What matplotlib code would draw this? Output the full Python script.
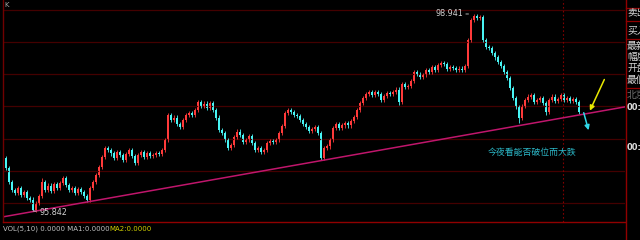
import numpy as np
import matplotlib.pyplot as plt

plt.rcParams['font.family'] = ['DejaVu Sans']
CJK = ['Noto Sans CJK SC', 'DejaVu Sans']

# candle closes left to right
first_open = 96.72
closes = [
    96.68, 96.52, 96.30, 96.17, 96.13, 96.20, 96.09, 96.14, 96.05, 96.02,
    95.86, 95.97, 96.08, 96.30, 96.17, 96.24, 96.16, 96.27, 96.20, 96.28,
    96.36, 96.25, 96.17, 96.20, 96.13, 96.19, 96.14, 96.08, 96.02, 96.20,
    96.30, 96.41, 96.53, 96.69, 96.83,
    96.80, 96.75, 96.68, 96.77, 96.72, 96.64, 96.74, 96.80, 96.71, 96.60,
    96.72, 96.77, 96.69, 96.75, 96.71, 96.72, 96.75, 96.74, 96.80, 96.96,
    97.35, 97.27, 97.31, 97.21, 97.16, 97.27, 97.35, 97.38, 97.35, 97.43,
    97.56, 97.49, 97.53, 97.46, 97.54, 97.43, 97.31, 97.12, 97.07, 96.96,
    96.83, 96.88, 97.01, 97.09, 97.04, 96.93, 96.96, 97.02, 96.91, 96.80,
    96.83, 96.77, 96.80, 96.91, 96.94, 96.93, 96.96, 97.07, 97.18, 97.38,
    97.43, 97.40, 97.35, 97.34, 97.27, 97.21, 97.16, 97.10, 97.13, 97.16,
    97.07, 96.68, 96.83, 96.86, 96.96, 97.15, 97.21, 97.15, 97.19, 97.23,
    97.19, 97.26, 97.32, 97.43, 97.54, 97.62, 97.68, 97.71, 97.67, 97.71,
    97.68, 97.59, 97.65, 97.70, 97.68, 97.71, 97.75, 97.56, 97.84, 97.79,
    97.81, 97.89, 98.03, 98.00, 97.95, 97.98, 98.06, 98.03, 98.11, 98.06,
    98.14, 98.17, 98.15, 98.08, 98.11, 98.09, 98.06, 98.08, 98.06, 98.12,
    98.53, 98.85, 98.91, 98.88, 98.89, 98.53, 98.42, 98.41, 98.33, 98.26,
    98.19, 98.12, 98.03, 97.93, 97.78, 97.62, 97.48, 97.31, 97.49, 97.59,
    97.64, 97.67, 97.56, 97.59, 97.62, 97.54, 97.40, 97.59, 97.64, 97.57,
    97.60, 97.67, 97.59, 97.62, 97.57, 97.60, 97.56, 97.40,
]
# long shadows that stick out (candle index -> price)
spike_high = {13: 96.36, 157: 98.941}
spike_low = {10: 95.842, 106: 96.65, 132: 97.51, 172: 97.23, 181: 97.35, 192: 97.36}

low_idx, low_label = 10, "95.842"
high_idx, high_label = 157, "98.941"

trend_x = [0, 207.3]
trend_y = [95.75, 97.48]
grid_levels = [99.0, 98.5, 98.0, 97.49, 96.98, 96.47, 95.96]

note = "今夜看能否破位而大跌"
panel_labels = ["卖出", "买入", "最新", "幅度", "开盘", "最低"]
panel_rows = [13, 30, 46, 57, 68, 80]
vol_text = "VOL(5,10) 0.0000 MA1:0.0000"
ma2_text = "MA2:0.0000"

W, H = 640, 240
RED_GRID = '#440000'
RED_LINE = '#900000'

fig = plt.figure(figsize=(W / 100, H / 100), dpi=100, facecolor='black')
ax = fig.add_axes([2.5 / W, 1 - 222 / H, (625 - 2.5) / W, 222 / H])
ax.set_facecolor('black')
ax.set_xlim(-0.17, 207.3)
ax.set_ylim(95.669, 99.161)
ax.set_xticks([])
ax.set_yticks([])
for side in ['top', 'right']:
    ax.spines[side].set_visible(False)
ax.spines['left'].set_color('#700000')
ax.spines['bottom'].set_color(RED_LINE)
ax.spines['left'].set_linewidth(1.0)
ax.spines['bottom'].set_linewidth(1.0)

ax.hlines(grid_levels, -0.17, 207.3, color=RED_GRID, lw=0.9)
ax.axvline(186.7, color='#800000', ls=(0, (1.5, 2)), lw=0.8)

# candles
c = np.array(closes)
o = np.array([first_open] + closes[:-1])
x = np.arange(len(c))
up = c >= o
colors = np.where(up, '#ff3a3a', '#48f4f4')
wick_pad = 0.035
hi = np.maximum(o, c) + wick_pad
lo = np.minimum(o, c) - wick_pad
for k, v in spike_high.items():
    hi[k] = v
for k, v in spike_low.items():
    lo[k] = v
ax.vlines(x, lo, hi, colors=colors, lw=0.6)
ax.bar(x, np.abs(c - o), bottom=np.minimum(o, c), width=0.7, color=colors, linewidth=0)

ax.plot(trend_x, trend_y, color='#c0166c', lw=1.1)

# extreme labels
ax.annotate(high_label, xy=(high_idx, spike_high[high_idx]), xytext=(-11, 0),
            textcoords='offset pixels', ha='right', va='center', color='#d0d0d0', fontsize=5.8,
            arrowprops=dict(arrowstyle='-', color='#d0d0d0', lw=0.6, shrinkA=0, shrinkB=4))
ax.annotate(low_label, xy=(low_idx, spike_low[low_idx]), xytext=(6, -1),
            textcoords='offset pixels', ha='left', va='center', color='#d0d0d0', fontsize=5.8,
            arrowprops=dict(arrowstyle='-', color='#d0d0d0', lw=0.6, shrinkA=0, shrinkB=0))

ax.text(176.3, 96.77, note, color='#2cb8c8', fontsize=6.4, family=CJK, ha='center', va='center')

ax.annotate('', xy=(195.2, 97.38), xytext=(200.8, 97.95),
            arrowprops=dict(arrowstyle='-|>', color='#e8e800', lw=1.1, mutation_scale=7))
ax.annotate('', xy=(195.4, 97.07), xytext=(193.3, 97.43),
            arrowprops=dict(arrowstyle='-|>', color='#30d8e8', lw=1.1, mutation_scale=7))

# header / volume strip
fig.text(4 / W, 1 - 5 / H, 'K', color='#a8a8a8', fontsize=5, va='center')
fig.text(3 / W, 1 - 229 / H, vol_text, color='#c0c0c0', fontsize=5, va='center')
fig.text(109 / W, 1 - 229 / H, ma2_text, color='#d0d000', fontsize=5, va='center')

# right info panel (cut off at the image edge, as in the source)
fig.add_artist(plt.Line2D([625.5 / W, 625.5 / W], [0, 1], color=RED_LINE, lw=1.0))
for yy in [8, 21, 39, 88]:
    fig.add_artist(plt.Line2D([625.5 / W, 1], [1 - yy / H, 1 - yy / H], color=RED_LINE, lw=0.9))
for lab, yy in zip(panel_labels, panel_rows):
    fig.text(627 / W, 1 - yy / H, lab, color='#d8d8d8', fontsize=7, family=CJK, va='center')
fig.text(627 / W, 1 - 95 / H, '北京', color='#707070', fontsize=7, family=CJK, va='center')
fig.text(627 / W, 1 - 108 / H, '00:00', color='#e0e0e0', fontsize=6, weight='bold', va='center')
fig.text(627 / W, 1 - 147 / H, '00:00', color='#e0e0e0', fontsize=6, weight='bold', va='center')

fig.savefig('out.png', dpi=100, facecolor='black')
